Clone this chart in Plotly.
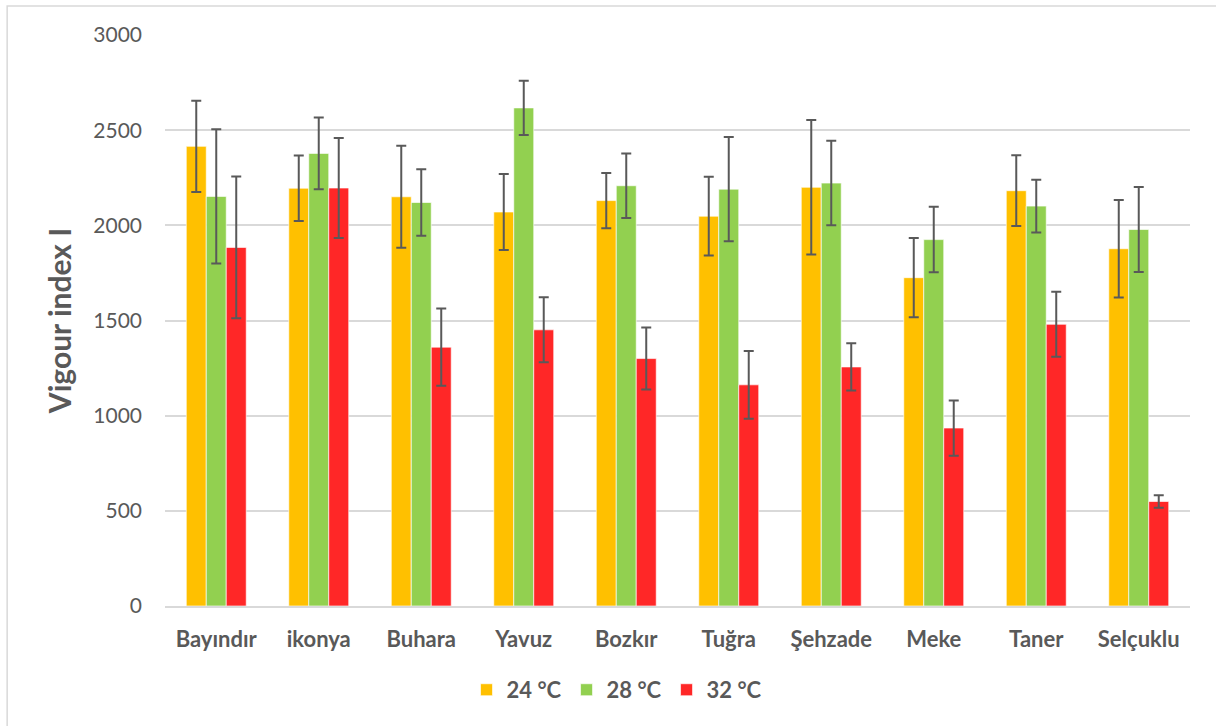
import plotly.graph_objects as go

# Cultivars on the category axis
cultivars = ["Bayındır", "ikonya", "Buhara", "Yavuz", "Bozkır",
             "Tuğra", "Şehzade", "Meke", "Taner", "Selçuklu"]

# Mean vigour index I at each germination temperature
vigour_24 = [2415, 2195, 2150, 2070, 2130, 2048, 2200, 1725, 2182, 1877]
vigour_28 = [2152, 2378, 2120, 2617, 2208, 2190, 2222, 1925, 2101, 1978]
vigour_32 = [1884, 2196, 1360, 1451, 1300, 1162, 1256, 935, 1480, 549]

# Standard deviations (error bars)
sd_24 = [240, 172, 268, 200, 145, 207, 353, 208, 186, 256]
sd_28 = [353, 188, 175, 143, 170, 274, 222, 172, 138, 223]
sd_32 = [372, 263, 203, 171, 163, 178, 124, 145, 171, 33]

series_names = ["24 °C", "28 °C", "32 °C"]
series_colors = ["#FFC000", "#92D050", "#FF2727"]
y_ticks = [0, 500, 1000, 1500, 2000, 2500, 3000]

FONT = "Lato"
GREY = "#595959"

fig = go.Figure()
for name, vals, sds, col in zip(series_names,
                                [vigour_24, vigour_28, vigour_32],
                                [sd_24, sd_28, sd_32],
                                series_colors):
    fig.add_trace(go.Bar(
        name=name,
        x=cultivars,
        y=vals,
        marker=dict(color=col, line=dict(color="rgba(255,255,255,0.8)", width=0.8)),
        error_y=dict(type="data", array=sds, visible=True,
                     color=GREY, thickness=2, width=5),
    ))

fig.update_layout(
    width=1216,
    height=726,
    margin=dict(l=165, r=26, t=35, b=120),
    paper_bgcolor="white",
    plot_bgcolor="white",
    barmode="group",
    bargap=0.415,
    bargroupgap=0,
    font=dict(family=FONT, color=GREY),
    showlegend=True,
    legend=dict(
        orientation="h",
        x=0.441, xanchor="center",
        y=-0.147, yanchor="middle",
        font=dict(family=FONT, size=22, color=GREY, weight="bold"),
        itemwidth=30,
        traceorder="normal",
    ),
    xaxis=dict(
        type="category",
        showgrid=False,
        showline=True,
        linecolor="#D9D9D9",
        linewidth=1.5,
        ticks="",
        ticklabelstandoff=13,
        tickfont=dict(family=FONT, size=22, color=GREY, weight="bold"),
    ),
    yaxis=dict(
        range=[0, 3000],
        tickvals=y_ticks,
        showgrid=True,
        gridcolor="#D9D9D9",
        gridwidth=1.5,
        zeroline=False,
        showline=False,
        ticks="",
        ticklabelstandoff=22,
        tickfont=dict(family=FONT, size=21, color=GREY),
        title=dict(text="Vigour index I",
                   font=dict(family=FONT, size=30, color=GREY, weight="bold"),
                   standoff=12),
    ),
)

# Thin frame around the chart area
fig.add_shape(type="rect", xref="paper", yref="paper",
              x0=-0.154, x1=1.04, y0=-0.23, y1=1.0508,
              line=dict(color="#D9D9D9", width=1.5), fillcolor="rgba(0,0,0,0)",
              layer="below")

fig.write_html("out.html")
